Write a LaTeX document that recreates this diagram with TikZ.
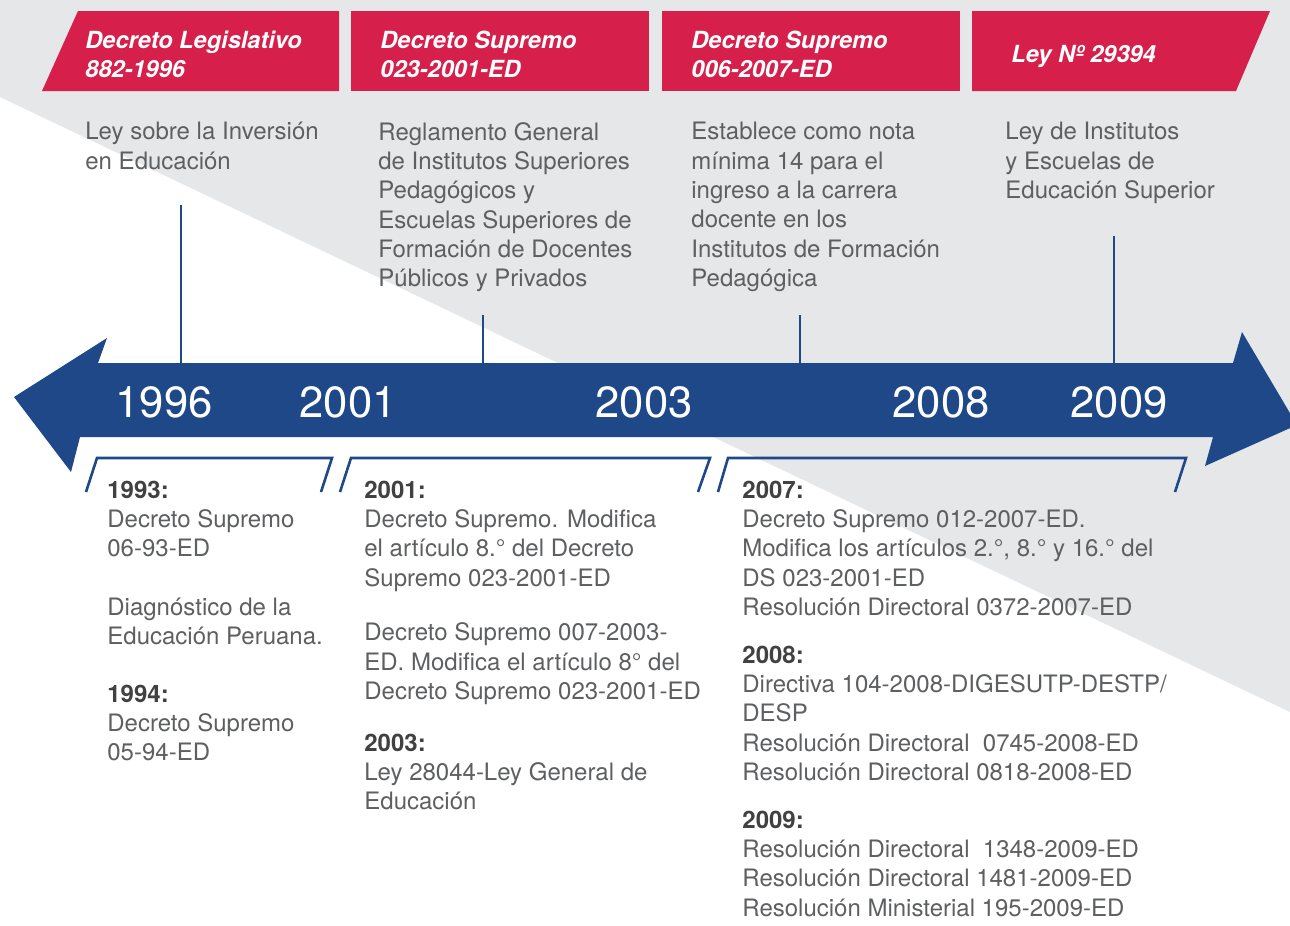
\documentclass[tikz,border=0pt]{standalone}
\usepackage{fontspec}
\setmainfont{TeX Gyre Heros}
\usepackage{xcolor}
\usetikzlibrary{positioning,calc}

\definecolor{leyred}{HTML}{D61F4B}
\definecolor{lineablue}{HTML}{1E4887}
\definecolor{fondo}{HTML}{E6E7E9}
\definecolor{textogris}{HTML}{5E5F61}
\definecolor{aniogris}{HTML}{414142}

\newcommand{\hito}[1]{{\color{aniogris}\bfseries #1}}

\tikzset{
  titulo/.style={anchor=north west, inner sep=0pt, align=left, text=white,
    font=\fontsize{11.8}{14.5}\selectfont\bfseries\itshape, execute at begin node=\strut},
  texto/.style={anchor=north west, inner sep=0pt, align=left, text=textogris,
    font=\fontsize{12}{14.65}\selectfont, execute at begin node=\strut},
  anio/.style={anchor=base, inner sep=0pt, text=white, font=\fontsize{21.8}{24}\selectfont},
  marca/.style={draw=lineablue, line width=1.25pt},
  llave/.style={draw=lineablue, line width=1.3pt}
}

\begin{document}
\begin{tikzpicture}[x=0.5pt, y=-0.5pt]
  \useasboundingbox (0,0) rectangle (1290,926);
  \fill[white] (0,0) rectangle (1290,926);
  \fill[fondo] (0,0) -- (1290,0) -- (1290,712) -- (0,97) -- cycle;

  % cabeceras rojas
  \fill[leyred] (42,91) -- (78,11) -- (339,11) -- (339,91) -- cycle;
  \fill[leyred] (351,11) rectangle (649,91);
  \fill[leyred] (662,11) rectangle (960,91);
  \fill[leyred] (972,11) -- (1270,11) -- (1236,91) -- (972,91) -- cycle;

  \node[titulo] (dl882) at (85,30.5) {Decreto Legislativo\\882-1996};
  \node[titulo] (ds023) at (380,30.5) {Decreto Supremo\\023-2001-ED};
  \node[titulo] (ds006) at (691,30.5) {Decreto Supremo\\006-2007-ED};
  \node[titulo] (ley29394) at (1011,42) {Ley Nº 29394};

  % descripciones
  \node[texto] (inversion) at (85,122) {Ley sobre la Inversión\\en Educación};
  \node[texto] (reglamento) at (378,122) {Reglamento General\\de Institutos Superiores\\Pedagógicos y\\Escuelas Superiores de\\Formación de Docentes\\Públicos y Privados};
  \node[texto] (notaminima) at (691,122) {Establece como nota\\mínima 14 para el\\ingreso a la carrera\\docente en los\\Institutos de Formación\\Pedagógica};
  \node[texto] (institutos) at (1005,122) {Ley de Institutos\\y Escuelas de\\Educación Superior};

  % marcas hacia la flecha
  \coordinate (ejetop) at (0,363);
  \coordinate (m1996) at (181,205);
  \coordinate (m2001) at (483,315);
  \coordinate (m2007) at (800,315);
  \coordinate (m2009) at (1114,236);
  \foreach \m in {m1996,m2001,m2007,m2009}
    \draw[marca] (\m) -- (\m |- ejetop);

  % flecha
  \fill[lineablue] (14,397) -- (107,338) -- (98,363) -- (1233,363) -- (1242,332)
    -- (1297,425) -- (1205,466) -- (1213,437) -- (80,437) -- (71,472) -- cycle;

  \node[anio] (a1996) at (164,417) {1996};
  \node[anio] (a2001) at (348,417) {2001};
  \node[anio] (a2003) at (644,417) {2003};
  \node[anio] (a2008) at (941,417) {2008};
  \node[anio] (a2009) at (1119,417) {2009};

  % llaves
  \draw[llave] (86,492) -- (97,458) -- (332,458) -- (321,492);
  \draw[llave] (340,492) -- (351,458) -- (710,458) -- (698,492);
  \draw[llave] (718,492) -- (728,458) -- (1186,458) -- (1175,492);

  % columna 1
  \node[texto] (c1a) at (107,480.5) {\hito{1993:}\\Decreto Supremo\\06-93-ED};
  \node[texto] (c1b) at (107,597.5) {Diagnóstico de la\\Educación Peruana.};
  \node[texto] (c1c) at (107,684.5) {\hito{1994:}\\Decreto Supremo\\05-94-ED};

  % columna 2
  \node[texto] (c2a) at (364,480.5) {\hito{2001:}\\Decreto Supremo. Modifica\\el artículo 8.° del Decreto\\Supremo 023-2001-ED};
  \node[texto] (c2b) at (364,622.5) {Decreto Supremo 007-2003-\\ED. Modifica el artículo 8° del\\Decreto Supremo 023-2001-ED};
  \node[texto] (c2c) at (364,733.5) {\hito{2003:}\\Ley 28044-Ley General de\\Educación};

  % columna 3
  \node[texto] (c3a) at (742,480.5) {\hito{2007:}\\Decreto Supremo 012-2007-ED.\\Modifica los artículos 2.°, 8.° y 16.° del\\DS 023-2001-ED\\Resolución Directoral 0372-2007-ED};
  \node[texto] (c3b) at (742,645.5) {\hito{2008:}\\Directiva 104-2008-DIGESUTP-DESTP/\\DESP\\Resolución Directoral~~0745-2008-ED\\Resolución Directoral 0818-2008-ED};
  \node[texto] (c3c) at (742,810.5) {\hito{2009:}\\Resolución Directoral~~1348-2009-ED\\Resolución Directoral 1481-2009-ED\\Resolución Ministerial 195-2009-ED};
\end{tikzpicture}
\end{document}
